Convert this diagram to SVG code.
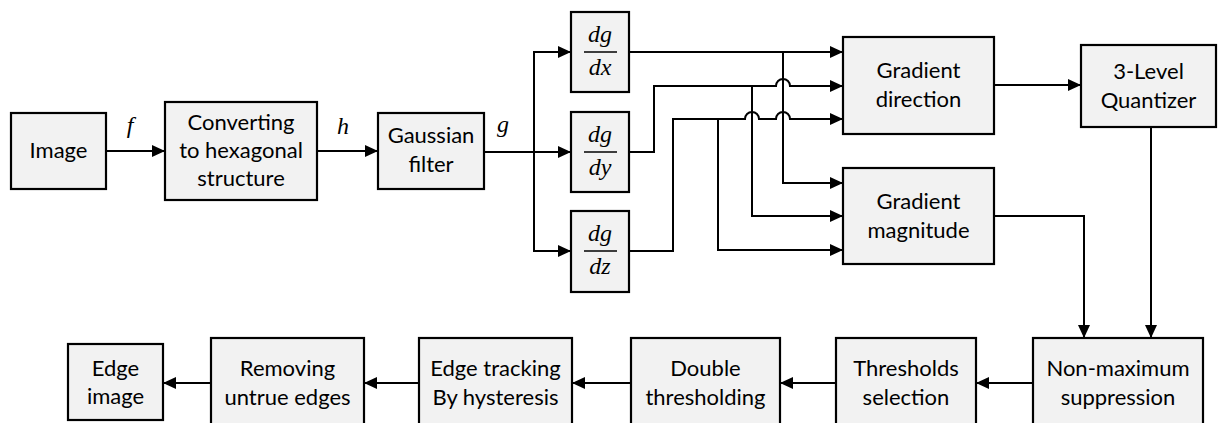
<svg xmlns="http://www.w3.org/2000/svg" width="1218" height="423" viewBox="0 0 1218 423">
<style>
.box{fill:#f2f2f2;stroke:#000;stroke-width:2.2}
.t{font-family:Lato,"Liberation Sans",sans-serif;font-size:22px;fill:#000;text-anchor:middle}
.m{font-family:"Liberation Serif","Times New Roman",serif;font-style:italic;font-size:24px;fill:#000;text-anchor:middle}
.w{fill:none;stroke:#000;stroke-width:2}
.bar{stroke:#000;stroke-width:1.4}
</style>
<defs>
<marker id="ah" markerUnits="userSpaceOnUse" markerWidth="13" markerHeight="12" refX="13" refY="6" orient="auto">
<path d="M0,0 L13,6 L0,12 z" fill="#000"/>
</marker>
</defs>
<rect width="1218" height="423" fill="#fff"/>
<g id="connectors">
<path class="w" d="M106,151 H165" marker-end="url(#ah)"/>
<path class="w" d="M317,151 H378" marker-end="url(#ah)"/>
<path class="w" d="M484,152 H571" marker-end="url(#ah)"/>
<path class="w" d="M534,152 V52 H571" marker-end="url(#ah)"/>
<path class="w" d="M534,152 V251 H571" marker-end="url(#ah)"/>
<path class="w" d="M629,52 H843" marker-end="url(#ah)"/>
<path class="w" d="M783,52 V183 H843" marker-end="url(#ah)"/>
<path class="w" d="M629,152 H654 V86 H776 A7,7 0 0 1 790,86 H843" marker-end="url(#ah)"/>
<path class="w" d="M752,86 V216 H843" marker-end="url(#ah)"/>
<path class="w" d="M629,251 H673 V119 H745 A7,7 0 0 1 759,119 H776 A7,7 0 0 1 790,119 H843" marker-end="url(#ah)"/>
<path class="w" d="M718,119 V250 H843" marker-end="url(#ah)"/>
<path class="w" d="M994,85 H1081" marker-end="url(#ah)"/>
<path class="w" d="M1151,127 V338" marker-end="url(#ah)"/>
<path class="w" d="M994,216 H1084 V338" marker-end="url(#ah)"/>
<path class="w" d="M1033,383 H976" marker-end="url(#ah)"/>
<path class="w" d="M836,383 H780" marker-end="url(#ah)"/>
<path class="w" d="M631,383 H572" marker-end="url(#ah)"/>
<path class="w" d="M419,383 H364" marker-end="url(#ah)"/>
<path class="w" d="M211,383 H163" marker-end="url(#ah)"/>
<text class="m" x="130" y="133">f</text>
<text class="m" x="343" y="134">h</text>
<text class="m" x="503" y="132">g</text>
</g>
<g id="image">
<rect class="box" x="11" y="113" width="95" height="76"/>
<text class="t" x="58.5" y="158">Image</text>
</g>
<g id="converting">
<rect class="box" x="165" y="102" width="152" height="98"/>
<text class="t" x="241" y="130">Converting</text>
<text class="t" x="241" y="158">to hexagonal</text>
<text class="t" x="241" y="186">structure</text>
</g>
<g id="gaussian">
<rect class="box" x="378" y="113" width="106" height="76"/>
<text class="t" x="431" y="143">Gaussian</text>
<text class="t" x="431" y="172">filter</text>
</g>
<g id="dgdx">
<rect class="box" x="571" y="12" width="58" height="80"/>
<text class="m" x="600" y="42">dg</text>
<line class="bar" x1="584" y1="52" x2="617" y2="52"/>
<text class="m" x="600" y="75">dx</text>
</g>
<g id="dgdy">
<rect class="box" x="571" y="112" width="58" height="80"/>
<text class="m" x="600" y="142">dg</text>
<line class="bar" x1="584" y1="152" x2="617" y2="152"/>
<text class="m" x="600" y="175">dy</text>
</g>
<g id="dgdz">
<rect class="box" x="571" y="211" width="58" height="81"/>
<text class="m" x="600" y="241">dg</text>
<line class="bar" x1="584" y1="251" x2="617" y2="251"/>
<text class="m" x="600" y="274">dz</text>
</g>
<g id="direction">
<rect class="box" x="843" y="37" width="151" height="97"/>
<text class="t" x="918.5" y="78">Gradient</text>
<text class="t" x="918.5" y="107">direction</text>
</g>
<g id="magnitude">
<rect class="box" x="843" y="168" width="151" height="96"/>
<text class="t" x="918.5" y="209">Gradient</text>
<text class="t" x="918.5" y="238">magnitude</text>
</g>
<g id="quantizer">
<rect class="box" x="1081" y="45" width="135" height="82"/>
<text class="t" x="1148.5" y="79">3-Level</text>
<text class="t" x="1148.5" y="108">Quantizer</text>
</g>
<g id="nms">
<rect class="box" x="1033" y="338" width="170" height="92"/>
<text class="t" x="1118" y="376">Non-maximum</text>
<text class="t" x="1118" y="405">suppression</text>
</g>
<g id="thresholds">
<rect class="box" x="836" y="338" width="140" height="92"/>
<text class="t" x="906" y="376">Thresholds</text>
<text class="t" x="906" y="405">selection</text>
</g>
<g id="double">
<rect class="box" x="631" y="338" width="149" height="92"/>
<text class="t" x="705.5" y="376">Double</text>
<text class="t" x="705.5" y="405">thresholding</text>
</g>
<g id="tracking">
<rect class="box" x="419" y="338" width="153" height="92"/>
<text class="t" x="495.5" y="376">Edge tracking</text>
<text class="t" x="495.5" y="405">By hysteresis</text>
</g>
<g id="removing">
<rect class="box" x="211" y="338" width="153" height="92"/>
<text class="t" x="287.5" y="376">Removing</text>
<text class="t" x="287.5" y="405">untrue edges</text>
</g>
<g id="edgeimage">
<rect class="box" x="68" y="344" width="95" height="76"/>
<text class="t" x="115.5" y="376">Edge</text>
<text class="t" x="115.5" y="404">image</text>
</g>
</svg>
